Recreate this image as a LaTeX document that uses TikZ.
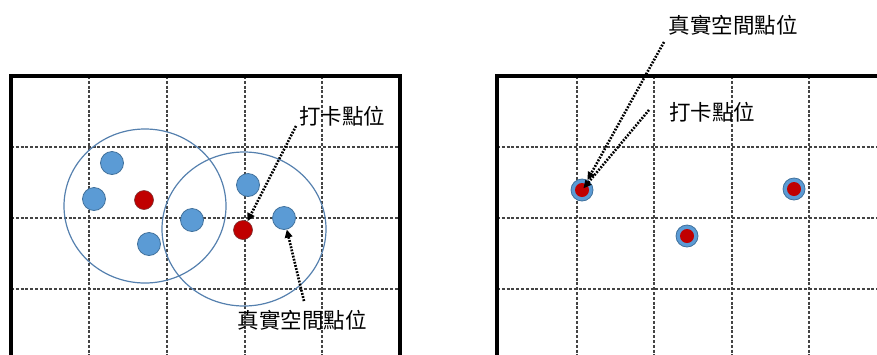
\documentclass[tikz,border=0pt]{standalone}
\usepackage{fontspec}
\newfontfamily\cjk{Noto Sans CJK TC}
\usetikzlibrary{arrows.meta}
\definecolor{dotblue}{HTML}{5B9BD5}
\definecolor{dotedge}{HTML}{41719C}
\definecolor{ringc}{HTML}{5580AE}
\definecolor{dotred}{HTML}{C00000}
\definecolor{rededge}{HTML}{7A3030}
\definecolor{gridc}{HTML}{444444}
\tikzset{
  frame/.style={line width=3.6pt, black},
  gridline/.style={line width=1.5pt, gridc, dash pattern=on 3pt off 1.8pt},
  ring/.style={draw=ringc, line width=1.2pt},
  bdot/.style={circle, fill=dotblue, draw=dotedge, line width=0.8pt, minimum size=23pt, inner sep=0pt},
  rdot/.style={circle, fill=dotred, draw=rededge, line width=0.6pt, minimum size=19pt, inner sep=0pt},
  odot/.style={circle, fill=dotblue, draw=dotedge, line width=0.8pt, minimum size=22pt, inner sep=0pt},
  idot/.style={circle, fill=dotred, draw=none, minimum size=14pt, inner sep=0pt},
  lbl/.style={inner sep=0pt, font=\cjk\fontsize{21.5}{25}\selectfont},
  arr/.style={line width=2.6pt, black, dash pattern=on 1.8pt off 1.4pt, -{Triangle[length=8pt,width=7.5pt]}}
}
\begin{document}
\begin{tikzpicture}[x=1pt,y=-1pt]
\useasboundingbox (0,0) rectangle (877,354);
\clip (0,0) rectangle (877,354);
% ---------- left panel ----------
\foreach \x in {89,167,245,322} \draw[gridline] (\x,76) -- (\x,360);
\foreach \y in {147,218,289} \draw[gridline] (11,\y) -- (400,\y);
\draw[frame] (11,362) -- (11,76) -- (400,76) -- (400,362);
\draw[ring] (145,206) ellipse [x radius=81, y radius=77];
\draw[ring] (244,229) ellipse [x radius=82, y radius=77];
\node[bdot] (b1) at (112,163) {};
\node[bdot] (b2) at (94,199) {};
\node[bdot] (b3) at (149,244) {};
\node[bdot] (b4) at (192,220) {};
\node[bdot] (b5) at (248,185) {};
\node[bdot] (b6) at (284,218) {};
\node[rdot] (r1) at (144,200) {};
\node[rdot] (r2) at (243,230) {};
\node[lbl] (la) at (342,116) {打卡點位};
\node[lbl] (lb) at (302,320) {真實空間點位};
\coordinate (sa) at (296,126);
\coordinate (sb) at (304,301);
\draw[arr] (sa) -- (r2);
\draw[arr] (sb) -- (b6);
% ---------- right panel ----------
\foreach \x in {577,654,732,809} \draw[gridline] (\x,76) -- (\x,360);
\foreach \y in {147,218,289} \draw[gridline] (497,\y) -- (880,\y);
\draw[frame] (497,362) -- (497,76) -- (880,76);
\node[odot] (o1) at (582,190) {};
\node[odot] (o2) at (687,236) {};
\node[odot] (o3) at (794,189) {};
\node[idot] (i1) at (582,190) {};
\node[idot] (i2) at (687,236) {};
\node[idot] (i3) at (794,189) {};
\node[lbl] (lc) at (733,25) {真實空間點位};
\node[lbl] (ld) at (712,112) {打卡點位};
\coordinate (sc) at (664,42);
\coordinate (sd) at (649,110);
\draw[arr] (sc) -- (o1);
\draw[arr, shorten >=-5pt] (sd) -- (i1);
\end{tikzpicture}
\end{document}
